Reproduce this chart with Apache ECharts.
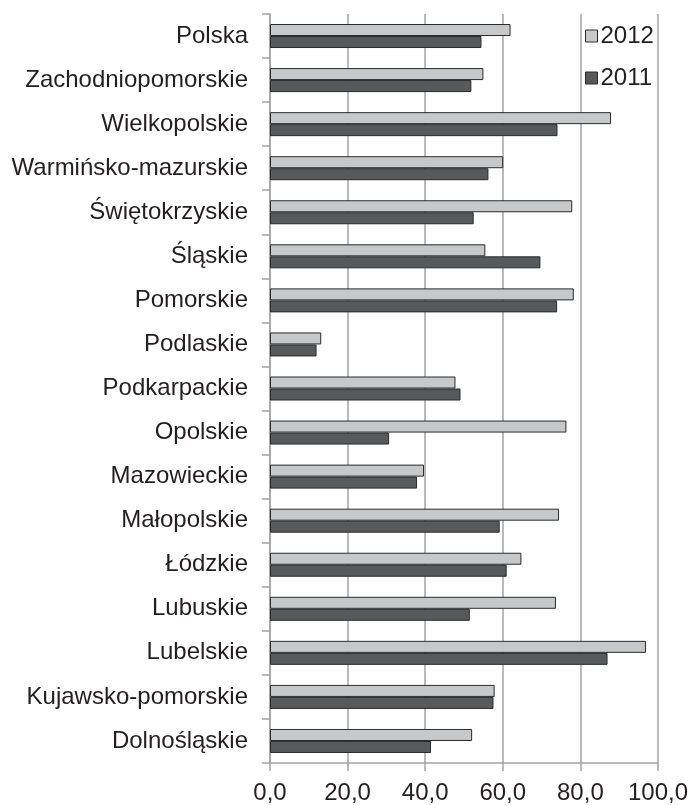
<!DOCTYPE html>
<html>
<head>
<meta charset="utf-8">
<script src="https://cdn.jsdelivr.net/npm/echarts@6/dist/echarts.min.js"></script>
<style>
html,body{margin:0;padding:0;background:#fff;}
#chart{width:691px;height:805px;}
</style>
</head>
<body>
<div id="chart"></div>
<script>
var categories = ['Polska','Zachodniopomorskie','Wielkopolskie','Warmińsko-mazurskie','Świętokrzyskie','Śląskie','Pomorskie','Podlaskie','Podkarpackie','Opolskie','Mazowieckie','Małopolskie','Łódzkie','Lubuskie','Lubelskie','Kujawsko-pomorskie','Dolnośląskie'];
var values2012 = [62.0, 55.0, 87.9, 60.1, 77.9, 55.5, 78.3, 13.2, 47.8, 76.4, 39.7, 74.5, 64.8, 73.7, 96.9, 57.9, 52.1];
var values2011 = [54.5, 51.9, 74.1, 56.3, 52.5, 69.7, 74.0, 12.0, 49.1, 30.7, 37.9, 59.2, 61.0, 51.5, 87.0, 57.6, 41.5];
var seriesNames = ['2012', '2011'];

var FONT = '"Liberation Sans", Arial, sans-serif';
var TXT = '#231f20';
var GRID_C = '#a3a3a3';

var chart = echarts.init(document.getElementById('chart'), null, {renderer: 'canvas'});
chart.setOption({
  animation: false,
  backgroundColor: '#ffffff',
  grid: {left: 270, right: 31, top: 14, bottom: 40, containLabel: false},
  legend: {
    orient: 'vertical',
    left: 585,
    top: 24,
    padding: 0,
    icon: 'rect',
    itemWidth: 12,
    itemHeight: 12,
    itemGap: 18,
    data: seriesNames,
    textStyle: {fontFamily: FONT, fontSize: 24, color: TXT, padding: [0,0,0,-2]},
    itemStyle: {borderColor: '#2a2a2a', borderWidth: 1}
  },
  xAxis: {
    type: 'value',
    min: 0, max: 100, interval: 20,
    axisLine: {show: true, lineStyle: {color: GRID_C, width: 1.5}},
    axisTick: {show: true, length: 8, lineStyle: {color: GRID_C, width: 1.5}},
    splitLine: {show: true, lineStyle: {color: GRID_C, width: 1.5}},
    axisLabel: {
      fontFamily: FONT, fontSize: 24, color: TXT, margin: 18,
      formatter: function (v) { return v.toFixed(1).replace('.', ','); }
    }
  },
  yAxis: {
    type: 'category',
    data: categories,
    inverse: true,
    axisLine: {show: true, lineStyle: {color: GRID_C, width: 1.5}},
    axisTick: {show: true, length: 8, lineStyle: {color: GRID_C, width: 1.5}},
    axisLabel: {fontFamily: FONT, fontSize: 24, color: TXT, margin: 22, padding: [3,0,0,0]}
  },
  series: [
    {
      name: seriesNames[0], type: 'bar', data: values2012,
      barWidth: 12, barGap: '0%',
      itemStyle: {color: '#c7c8ca', borderColor: '#2a2a2a', borderWidth: 1}
    },
    {
      name: seriesNames[1], type: 'bar', data: values2011,
      barWidth: 12, barGap: '0%',
      itemStyle: {color: '#58595b', borderColor: '#2a2a2a', borderWidth: 1}
    }
  ]
});
</script>
</body>
</html>
